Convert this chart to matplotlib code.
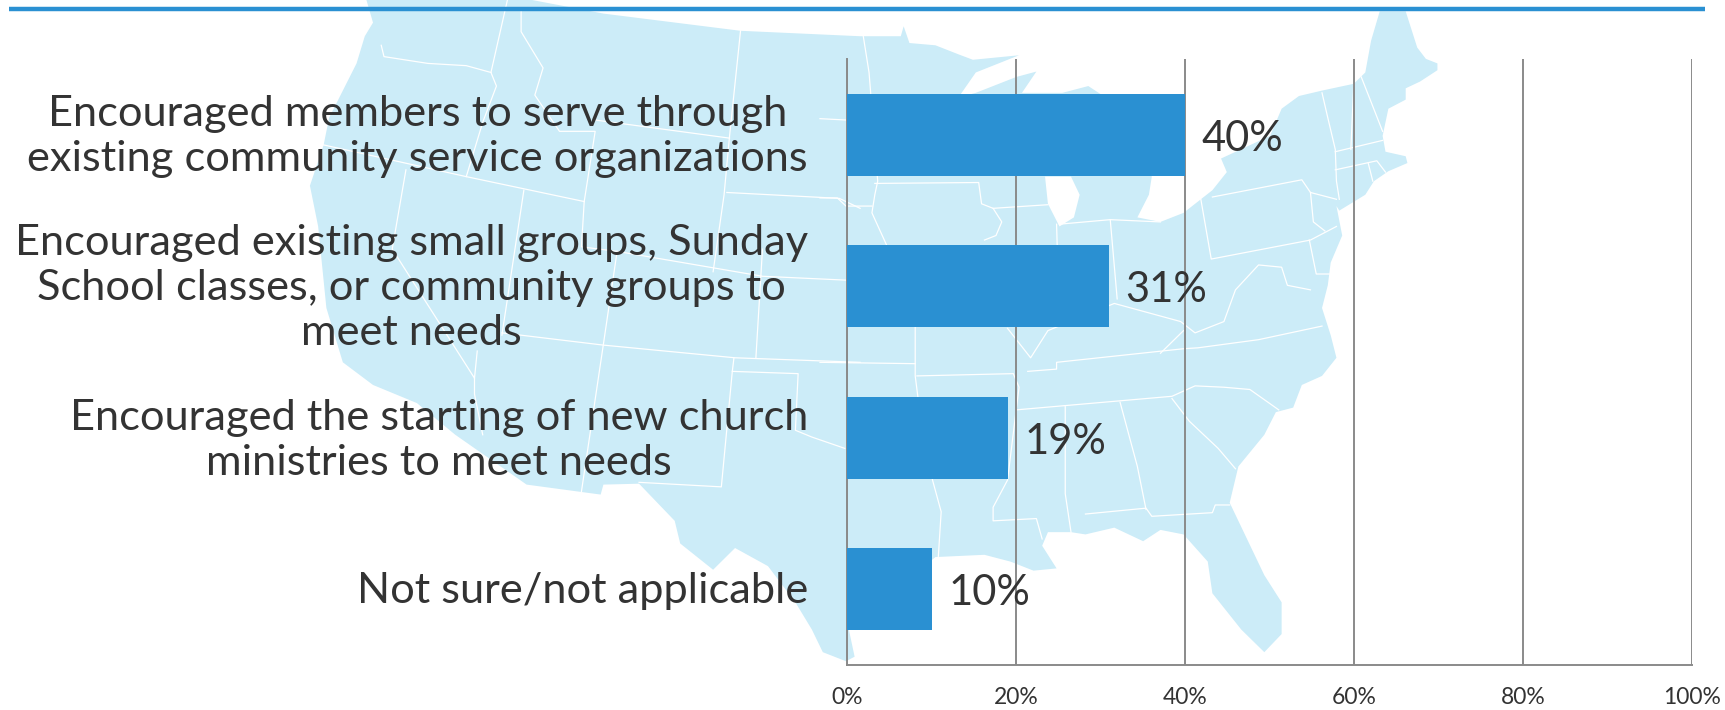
import matplotlib
matplotlib.use("Agg")
import matplotlib.pyplot as plt
from matplotlib.patches import Polygon
from matplotlib.transforms import ScaledTranslation

W, H = 1725, 710
categories = [
    "Encouraged members to serve through\nexisting community service organizations",
    "Encouraged existing small groups, Sunday\nSchool classes, or community groups to\nmeet needs",
    "Encouraged the starting of new church\nministries to meet needs",
    "Not sure/not applicable",
]
values = [40, 31, 19, 10]
ticks = [0, 20, 40, 60, 80, 100]
tick_labels = ["0%", "20%", "40%", "60%", "80%", "100%"]

BLUE = "#2A90D2"
MAP = "#CCECF8"
TEXT = "#333333"
GRID = "#8A8A8A"
FONT = ["Lato", "DejaVu Sans"]

# Decorative background map, traced in the two crop frames
def west(pts):
    return [(x / 1.823, y / 2.208) for x, y in pts]

def east(pts):
    return [(820 + x / 1.733, y / 2.208) for x, y in pts]

outline = (
    west([(668, 0), (970, 0), (1100, 30), (1350, 68), (1568, 80)])
    + east([(140, 80), (145, 58), (155, 95), (200, 100), (240, 120), (265, 132), (345, 122),
            (270, 160), (240, 215), (270, 205), (340, 170), (375, 158), (350, 205), (420, 205),
            (465, 190), (495, 215), (575, 390), (570, 430), (550, 480), (590, 490), (630, 470),
            (680, 420), (705, 380), (695, 350), (780, 300), (800, 240), (830, 212), (870, 200),
            (925, 185), (945, 160), (955, 90), (970, 25), (1015, 25), (1035, 105), (1050, 130),
            (1070, 140), (1070, 155), (1040, 180), (1015, 195), (1015, 220), (985, 240), (975, 300),
            (980, 335), (1015, 345), (1018, 360), (985, 378), (960, 400), (945, 430), (900, 465),
            (895, 455), (905, 520), (885, 580), (880, 630), (870, 680), (885, 740), (895, 790),
            (870, 830), (835, 850), (820, 900), (790, 910), (770, 960), (725, 1030), (710, 1110),
            (740, 1190), (770, 1270), (800, 1330), (800, 1400), (770, 1440), (730, 1390), (680, 1310),
            (672, 1240), (630, 1180), (590, 1170), (560, 1195), (510, 1165), (460, 1180), (435, 1175),
            (395, 1175), (385, 1205), (410, 1255), (370, 1260), (330, 1240), (285, 1225), (200, 1230),
            (50, 1390), (60, 1450), (45, 1460)])
    + west([(1500, 1440), (1480, 1390), (1450, 1330), (1400, 1250), (1340, 1210), (1300, 1258),
            (1240, 1200), (1230, 1150), (1165, 1068), (1100, 1070), (1095, 1092), (960, 1070),
            (830, 960), (760, 890), (680, 850), (625, 800), (595, 680), (580, 500), (565, 410),
            (590, 320), (600, 260), (650, 140), (665, 80), (680, 50)])
)
lake_michigan = east([(390, 390), (435, 390), (450, 430), (440, 480), (415, 500), (395, 450)])

borders = [
    west([(695, 100), (700, 125), (780, 140), (850, 145), (895, 160)]),
    west([(925, 0), (895, 160), (905, 190), (880, 270), (850, 390)]),
    west([(950, 25), (950, 70), (990, 150), (975, 210), (1020, 290), (1085, 290), (1065, 445)]),
    west([(590, 320), (850, 390), (1065, 445)]),
    west([(1350, 68), (1330, 300), (1320, 430), (1300, 600)]),
    west([(1085, 265), (1330, 305)]),
    west([(955, 420), (915, 740)]),
    west([(1065, 445), (1060, 545), (1125, 555), (1100, 760), (1060, 1085)]),
    west([(1325, 425), (1530, 438), (1568, 460)]),
    west([(1125, 555), (1390, 610), (1568, 620)]),
    west([(1390, 550), (1378, 790)]),
    west([(915, 735), (1100, 762), (1340, 790), (1568, 800)]),
    west([(1338, 790), (1335, 820), (1315, 1075), (1165, 1065)]),
    west([(1335, 820), (1455, 825), (1450, 950), (1480, 965), (1540, 990)]),
    west([(740, 375), (715, 550), (865, 835), (865, 870), (880, 960)]),
    west([(870, 775), (865, 835)]),
    east([(75, 80), (85, 160), (100, 400), (95, 430), (90, 470), (115, 540)]),
    east([(0, 262), (45, 265)]),
    east([(0, 437), (30, 437), (45, 455), (90, 455)]),
    east([(95, 405), (275, 403), (280, 450), (300, 460), (315, 490), (305, 520), (285, 530)]),
    east([(300, 460), (395, 452)]),
    east([(165, 720), (165, 830), (170, 880), (195, 1060), (210, 1130), (205, 1230)]),
    east([(0, 800), (165, 803)]),
    east([(168, 830), (335, 825), (345, 855), (340, 905), (325, 1060), (300, 1120), (300, 1150),
          (375, 1145), (385, 1190)]),
    east([(340, 905), (610, 875), (650, 852), (700, 855), (745, 860), (795, 905)]),
    east([(360, 820), (410, 815), (410, 800), (630, 770), (655, 768), (760, 750), (870, 720)]),
    east([(325, 725), (365, 790), (395, 730), (510, 670), (625, 710), (650, 735), (700, 710),
          (720, 640), (760, 585), (800, 590), (810, 630), (850, 640)]),
    east([(415, 495), (503, 485), (590, 490)]),
    east([(503, 485), (515, 660)]),
    east([(410, 495), (415, 720)]),
    east([(660, 440), (678, 572), (850, 530), (895, 500)]),
    east([(680, 435), (835, 397), (850, 425), (895, 440)]),
    east([(850, 425), (855, 490), (875, 510)]),
    east([(870, 205), (880, 260), (893, 330), (895, 400), (900, 440)]),
    east([(925, 185), (920, 330)]),
    east([(938, 170), (975, 290)]),
    east([(893, 335), (975, 310)]),
    east([(893, 375), (965, 355), (980, 380)]),
    east([(950, 360), (958, 400)]),
    east([(425, 898), (425, 1090), (435, 1175)]),
    east([(520, 888), (550, 1030), (565, 1125)]),
    east([(610, 880), (640, 930), (690, 990), (720, 1035)]),
    east([(460, 1135), (565, 1122), (575, 1140), (680, 1132), (685, 1115), (710, 1115)]),
    east([(590, 780), (630, 730)]),
    east([(848, 530), (860, 605), (885, 605)]),
]

fig = plt.figure(figsize=(W / 100, H / 100), dpi=100, facecolor="white")

bg = fig.add_axes([0, 0, 1, 1], zorder=0)
bg.set_xlim(0, W)
bg.set_ylim(H, 0)
bg.axis("off")
bg.add_patch(Polygon(outline, closed=True, fc=MAP, ec="none"))
bg.add_patch(Polygon(lake_michigan, closed=True, fc="white", ec="none"))
for line in borders:
    bg.plot(*zip(*line), color="white", lw=0.9, solid_joinstyle="round")
bg.plot([9, 1704.5], [9, 9], color=BLUE, lw=3.2, solid_capstyle="butt")

ax_left, ax_right, ax_top, ax_bottom = 847, 1692, 59, 665
ax = fig.add_axes([ax_left / W, 1 - ax_bottom / H, (ax_right - ax_left) / W, (ax_bottom - ax_top) / H], zorder=1)
ax.patch.set_alpha(0)
positions = list(range(len(categories)))
ax.barh(positions, values, height=0.54, color=BLUE, zorder=3)
ax.set_xlim(0, 100)
ax.set_ylim(len(categories) - 0.5, -0.5)
ax.set_xticks(ticks, tick_labels, fontsize=16.5, color=TEXT, family=FONT)
ax.set_yticks(positions, categories, fontsize=31.2, color=TEXT, family=FONT,
              multialignment="center", linespacing=1.22)
ax.tick_params(axis="both", length=0)
ax.tick_params(axis="y", pad=28)
ax.tick_params(axis="x", pad=16)
for label, lift_px in zip(ax.get_yticklabels(), (5, 5, 4.5, 2)):
    label.set_transform(label.get_transform() + ScaledTranslation(0, lift_px / 100, fig.dpi_scale_trans))
ax.xaxis.grid(True, color=GRID, lw=1.4, zorder=1)
ax.set_axisbelow(True)
for name in ["top", "right"]:
    ax.spines[name].set_visible(False)
ax.spines["left"].set_color(GRID)
ax.spines["bottom"].set_color(GRID)
ax.spines["left"].set_linewidth(1.4)
ax.spines["bottom"].set_linewidth(1.4)
for p, v in zip(positions, values):
    ax.annotate(f"{v}%", (v, p), xytext=(12, -3), textcoords="offset points", va="center",
                ha="left", fontsize=30, color=TEXT, family=FONT, zorder=4)

fig.savefig("out.png", dpi=100)
